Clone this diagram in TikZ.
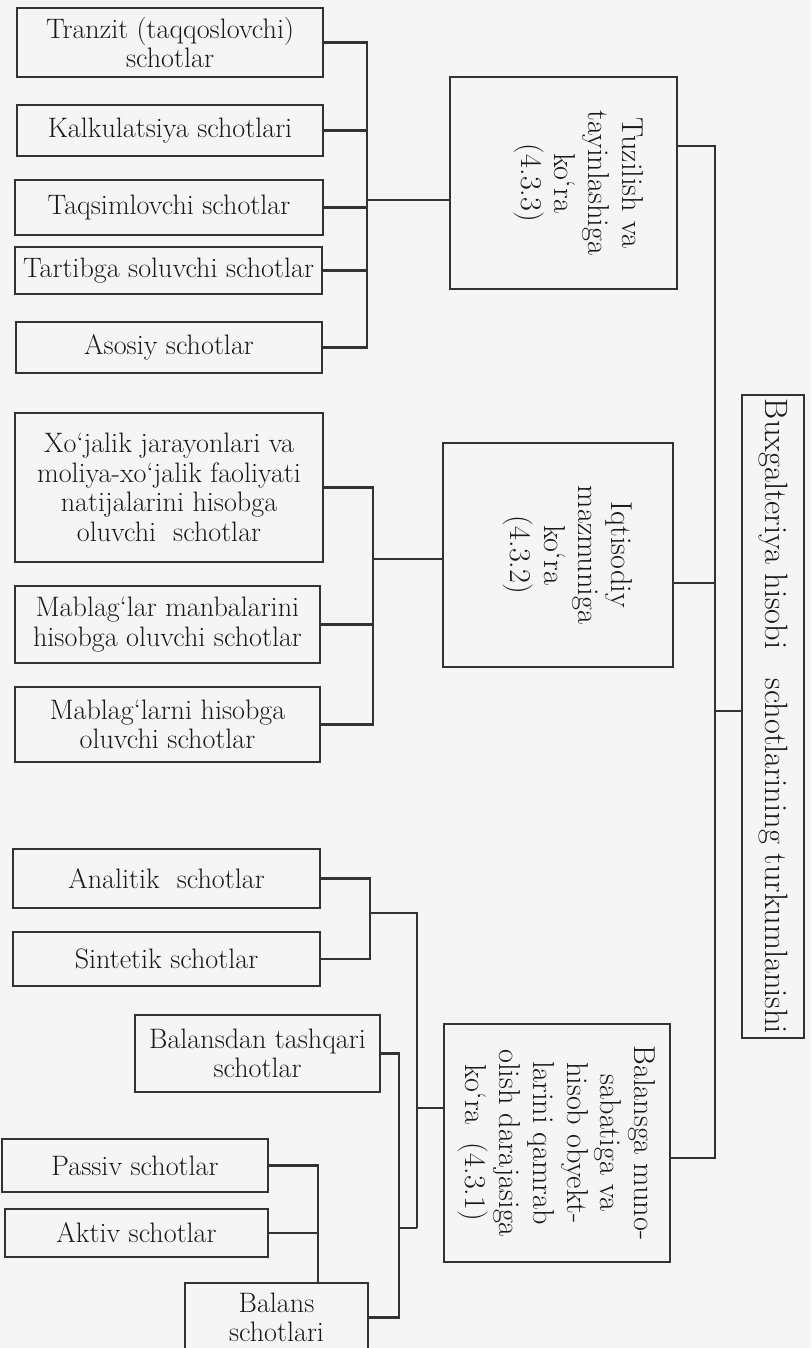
\documentclass[tikz,border=0pt]{standalone}
\usepackage{graphicx}
\newcommand{\rottext}[1]{\rotatebox{-90}{\fontsize{21.5}{24}\selectfont\begin{tabular}{@{}c@{}}#1\end{tabular}}}

\begin{document}
\begin{tikzpicture}[x=0.025cm,y=-0.025cm,line width=1.5pt,draw=black!80,
    box/.style={draw,inner sep=0pt,align=center,text=black!90,font=\fontsize{20}{21}\selectfont}]
        \fill [black!4] (0,0) rectangle (811,1348);
        \useasboundingbox (0,0) rectangle (811,1348);

        \node [box,minimum width=7.65cm,minimum height=1.725cm] (tranzit) at (170,42.5) {Tranzit (taqqoslovchi)\\schotlar};
        \node [box,minimum width=7.65cm,minimum height=1.275cm] (kalk) at (170,130.5) {Kalkulatsiya schotlari};
        \node [box,minimum width=7.7cm,minimum height=1.375cm] (taqsim) at (169,207.5) {Taqsimlovchi schotlar};
        \node [box,minimum width=7.675cm,minimum height=1.175cm] (tartib) at (168.5,270.5) {Tartibga soluvchi schotlar};
        \node [box,minimum width=7.65cm,minimum height=1.275cm] (asosiy) at (169,347.5) {Asosiy schotlar};
        \node [box,minimum width=5.675cm,minimum height=5.3cm] (tuzilish) at (563.5,183) {\hspace{0.75cm}\rottext{Tuzilish va\\tayinlashiga\\ko‘ra\\(4.3.3)}};

        \node [box,minimum width=7.7cm,minimum height=3.725cm] (xojalik) at (169,487.5) {Xo‘jalik jarayonlari va\\moliya-xo‘jalik faoliyati\\natijalarini hisobga\\oluvchi~ schotlar};
        \node [box,minimum width=7.625cm,minimum height=1.925cm] (manba) at (167.5,624.5) {Mablag‘lar manbalarini\\hisobga oluvchi schotlar};
        \node [box,minimum width=7.625cm,minimum height=1.875cm] (mablag) at (167.5,724.5) {Mablag‘larni hisobga\\oluvchi schotlar};
        \node [box,minimum width=5.75cm,minimum height=5.6cm] (iqtisod) at (558,555) {\hspace{0.5cm}\rottext{Iqtisodiy\\mazmuniga\\ko‘ra\\(4.3.2)}};

        \node [box,minimum width=7.675cm,minimum height=1.475cm] (analitik) at (166.5,878.5) {Analitik~ schotlar};
        \node [box,minimum width=7.675cm,minimum height=1.35cm] (sintetik) at (166.5,959) {Sintetik schotlar};
        \node [box,minimum width=6.125cm,minimum height=1.925cm] (tashqari) at (257.5,1053.5) {Balansdan tashqari\\schotlar};
        \node [box,minimum width=6.65cm,minimum height=1.325cm] (passiv) at (135,1165.5) {Passiv schotlar};
        \node [box,minimum width=6.575cm,minimum height=1.2cm] (aktiv) at (136.5,1233) {Aktiv schotlar};
        \node [box,minimum width=4.575cm,minimum height=1.725cm] (balans) at (276.5,1317.5) {Balans\\schotlari};
        \node [box,minimum width=5.65cm,minimum height=5.95cm] (balansga) at (557,1143) {\rottext{Balansga muno-\\sabatiga va\\hisob obyekt-\\larini qamrab\\olish darajasiga\\ko‘ra~~(4.3.1)}};

        \node [box,minimum width=1.55cm,minimum height=16.075cm] (main) at (773,716.5) {\rotatebox{-90}{\fontsize{23}{25}\selectfont Buxgalteriya hisobi~~ schotlarining turkumlanishi}};

        \coordinate (b1) at (367,200);
        \draw (tranzit.east) -| (b1) |- (asosiy.east);
        \foreach \n in {kalk,taqsim,tartib}
          \draw (\n.east) -- (\n.east -| b1);
        \draw (b1) -- (b1 -| tuzilish.west);

        \coordinate (b2) at (373,559);
        \draw (xojalik.east) -| (b2) |- (mablag.east);
        \draw (manba.east) -- (manba.east -| b2);
        \draw (b2) -- (b2 -| iqtisod.west);

        \coordinate (top) at (715,146);
        \coordinate (mid) at (715,583);
        \coordinate (bot) at (715,1158);
        \coordinate (b0) at (715,711);
        \draw (tuzilish.east |- top) -- (top) -- (bot) -- (balansga.east |- bot);
        \draw (iqtisod.east |- mid) -- (mid);
        \draw (b0) -- (b0 -| main.west);

        \coordinate (b3) at (370,913);
        \coordinate (b4) at (417,1228);
        \coordinate (b4a) at (417,1108);
        \coordinate (b5) at (399,1228);
        \coordinate (b6) at (318,1283);
        \draw (analitik.east) -| (b3) |- (sintetik.east);
        \draw (b3) -| (b4);
        \draw (b4a) -- (b4a -| balansga.west);
        \draw (tashqari.east) -| (b5) |- (balans.east);
        \draw (b5) -- (b4);
        \draw (passiv.east) -| (b6);
        \draw (aktiv.east) -- (aktiv.east -| b6);
\end{tikzpicture}
\end{document}
